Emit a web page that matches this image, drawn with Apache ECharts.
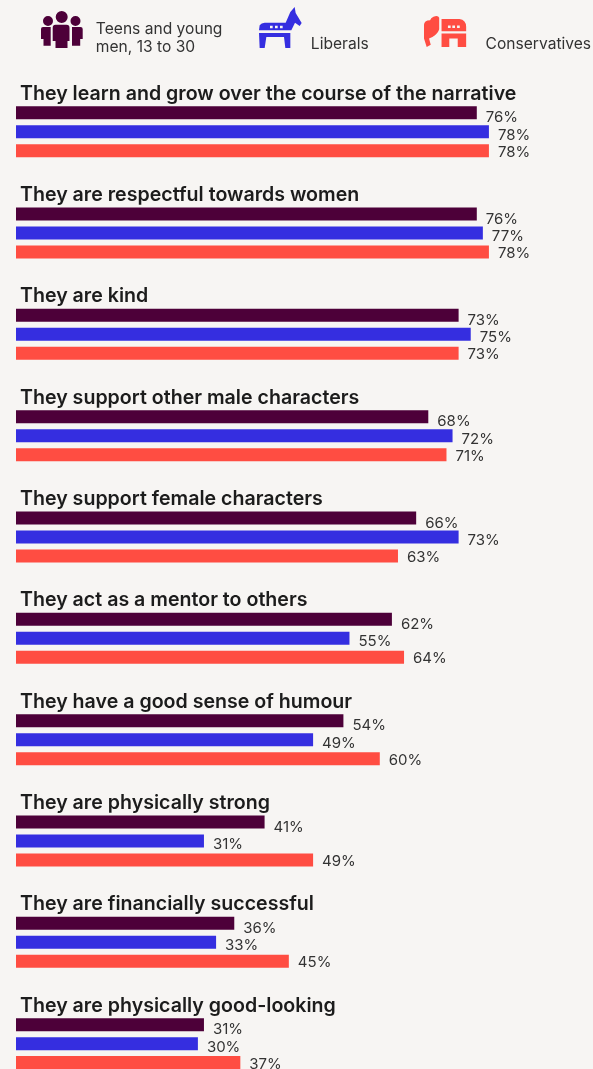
<!DOCTYPE html>
<html>
<head>
<meta charset="utf-8">
<style>html,body{margin:0;padding:0;background:#f7f5f3}#chart{width:593px;height:1069px}</style>
<script src="https://cdn.jsdelivr.net/npm/echarts@6/dist/echarts.min.js"></script>
</head>
<body>
<div id="chart"></div>
<script>
const traits = [
  'They learn and grow over the course of the narrative',
  'They are respectful towards women',
  'They are kind',
  'They support other male characters',
  'They support female characters',
  'They act as a mentor to others',
  'They have a good sense of humour',
  'They are physically strong',
  'They are financially successful',
  'They are physically good-looking'
];
const teens = [76, 76, 73, 68, 66, 62, 54, 41, 36, 31];
const liberals = [78, 77, 75, 72, 73, 55, 49, 31, 33, 30];
const conservatives = [78, 78, 73, 71, 63, 64, 60, 49, 45, 37];

const TEENS = 'Teens and young men, 13 to 30';
const LIBERALS = 'Liberals';
const CONSERVATIVES = 'Conservatives';

const peopleIcon = 'path://M55.7 18a6 6 0 1 1 12 0a6 6 0 1 1-12 0Z' +
  'M43 22a5 5 0 1 1 10 0a5 5 0 1 1-10 0Z' +
  'M70.5 22a5 5 0 1 1 10 0a5 5 0 1 1-10 0Z' +
  'M55.5 25.7H66.5Q69.5 25.7 69.5 29V42H67.5V49H55.5V42H52.7V29Q52.7 25.7 55.5 25.7Z' +
  'M43 28H50.7V46.7H43.5V40H41V30Q41 28 43 28Z' +
  'M72 28H80.5Q82.7 28 82.7 30V40H80.2V46.7H72Z';
const donkeyIcon = 'path://M28 80L30 65Q35 57 45 57H108L122 25L135 10L138 28L156 58L150 67L136 57L125 80Z' +
  'M61 66V74H69V66ZM76 66V74H84V66ZM91 66V74H99V66Z' +
  'M28 88H122V133H107L103 100H50L45 133H30Z';
const elephantIcon = 'path://M58 35Q72 30 75 38V72Q72 85 55 95L45 100L50 118L38 125L30 100V60Q30 46 48 46Q50 38 58 35Z' +
  'M82 42H135Q155 45 155 65V78H82Z' +
  'M101 61V69H109V61ZM114 61V69H122V61ZM128 61V69H136V61Z' +
  'M82 85H155V125H130V100H105V125H82Z';

function barSeries(name, values, color, labelDrop) {
  return {
    name, type: 'bar', data: values, barWidth: 13, barGap: '46%',
    itemStyle: { color },
    label: {
      show: true, position: 'right', distance: 9, offset: [0, labelDrop],
      formatter: '{c}%', color: '#333', fontFamily: 'Inter', fontSize: 15
    }
  };
}

function legendFor(name, icon, left, top, w, h, padLeft, padTop, lines) {
  return {
    data: [{ name, icon }], left, top, padding: 0, itemWidth: w, itemHeight: h,
    selectedMode: false,
    formatter: () => lines.map((line) => '{line|' + line + '}').join('\n'),
    textStyle: {
      rich: {
        line: {
          fontFamily: 'Inter', fontSize: 15.6, lineHeight: 18, color: '#333',
          padding: [padTop, 0, 0, padLeft]
        }
      }
    }
  };
}

const chart = echarts.init(document.getElementById('chart'));
chart.setOption({
  animation: false,
  backgroundColor: '#f7f5f3',
  legend: [
    legendFor(TEENS, peopleIcon, 41, 3.5, 42, 37, 8, 18, ['Teens and young', 'men, 13 to 30']),
    legendFor(LIBERALS, donkeyIcon, 259, 3, 43, 41, 4, 33, [LIBERALS]),
    legendFor(CONSERVATIVES, elephantIcon, 424, 11, 43, 31, 14, 25, [CONSERVATIVES])
  ],
  grid: { left: 16, top: 81, width: 576, height: 1013.3, outerBoundsMode: 'none' },
  xAxis: { type: 'value', min: 0, max: 95, show: false },
  yAxis: {
    type: 'category', data: traits, inverse: true,
    axisLine: { show: false }, axisTick: { show: false }, splitLine: { show: false },
    axisLabel: {
      interval: 0, inside: true, margin: 4, align: 'left', verticalAlign: 'bottom',
      formatter: (name) => '{title|' + name + '}',
      rich: {
        title: {
          padding: [0, 0, 28, 0],
          fontFamily: 'Inter', fontWeight: 600, fontSize: 19.6, color: '#1c1c1c'
        }
      }
    }
  },
  series: [
    barSeries(TEENS, teens, '#4d0039', 5),
    barSeries(LIBERALS, liberals, '#352ee0', 3.5),
    barSeries(CONSERVATIVES, conservatives, '#ff4d42', 1.5)
  ]
});
</script>
</body>
</html>
